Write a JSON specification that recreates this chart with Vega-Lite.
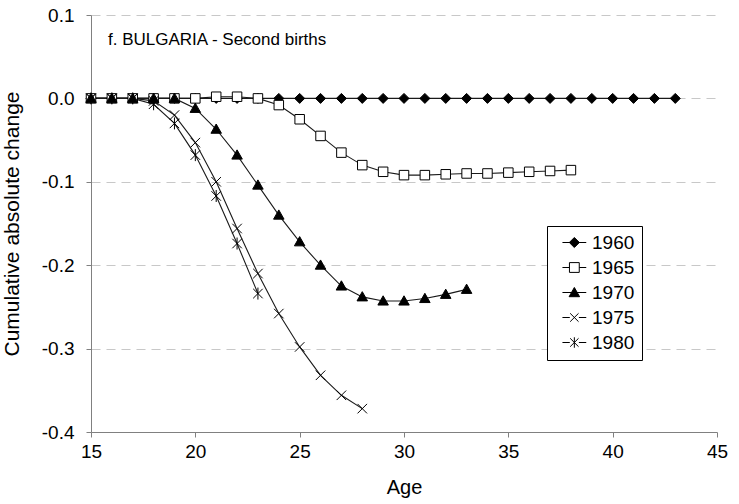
{
  "$schema": "https://vega.github.io/schema/vega-lite/v6.json",
  "width": 626,
  "height": 417,
  "autosize": {"type": "none"},
  "padding": {"left": 91, "top": 15, "right": 22, "bottom": 72},
  "background": "white",
  "config": {
    "view": {"stroke": null},
    "font": "Liberation Sans"
  },
  "title": {
    "text": "f. BULGARIA - Second births",
    "anchor": "start",
    "orient": "top",
    "frame": "group",
    "fontSize": 17,
    "fontWeight": "normal",
    "font": "Liberation Sans",
    "color": "black",
    "dx": 17,
    "dy": 51,
    "offset": 0,
    "baseline": "middle"
  },
  "data": {
    "values": [
      {"year": "1960", "age": 15, "value": 0}, {"year": "1960", "age": 16, "value": 0}, {"year": "1960", "age": 17, "value": 0}, {"year": "1960", "age": 18, "value": 0}, {"year": "1960", "age": 19, "value": 0}, {"year": "1960", "age": 20, "value": 0}, {"year": "1960", "age": 21, "value": 0}, {"year": "1960", "age": 22, "value": 0}, {"year": "1960", "age": 23, "value": 0}, {"year": "1960", "age": 24, "value": 0}, {"year": "1960", "age": 25, "value": 0}, {"year": "1960", "age": 26, "value": 0}, {"year": "1960", "age": 27, "value": 0}, {"year": "1960", "age": 28, "value": 0}, {"year": "1960", "age": 29, "value": 0}, {"year": "1960", "age": 30, "value": 0}, {"year": "1960", "age": 31, "value": 0}, {"year": "1960", "age": 32, "value": 0}, {"year": "1960", "age": 33, "value": 0}, {"year": "1960", "age": 34, "value": 0}, {"year": "1960", "age": 35, "value": 0}, {"year": "1960", "age": 36, "value": 0}, {"year": "1960", "age": 37, "value": 0}, {"year": "1960", "age": 38, "value": 0}, {"year": "1960", "age": 39, "value": 0}, {"year": "1960", "age": 40, "value": 0}, {"year": "1960", "age": 41, "value": 0}, {"year": "1960", "age": 42, "value": 0}, {"year": "1960", "age": 43, "value": 0},
      {"year": "1965", "age": 15, "value": 0}, {"year": "1965", "age": 16, "value": 0}, {"year": "1965", "age": 17, "value": 0}, {"year": "1965", "age": 18, "value": 0}, {"year": "1965", "age": 19, "value": 0}, {"year": "1965", "age": 20, "value": 0}, {"year": "1965", "age": 21, "value": 0.002}, {"year": "1965", "age": 22, "value": 0.002}, {"year": "1965", "age": 23, "value": 0}, {"year": "1965", "age": 24, "value": -0.008}, {"year": "1965", "age": 25, "value": -0.025}, {"year": "1965", "age": 26, "value": -0.045}, {"year": "1965", "age": 27, "value": -0.065}, {"year": "1965", "age": 28, "value": -0.08}, {"year": "1965", "age": 29, "value": -0.088}, {"year": "1965", "age": 30, "value": -0.092}, {"year": "1965", "age": 31, "value": -0.092}, {"year": "1965", "age": 32, "value": -0.091}, {"year": "1965", "age": 33, "value": -0.09}, {"year": "1965", "age": 34, "value": -0.09}, {"year": "1965", "age": 35, "value": -0.089}, {"year": "1965", "age": 36, "value": -0.088}, {"year": "1965", "age": 37, "value": -0.087}, {"year": "1965", "age": 38, "value": -0.086},
      {"year": "1970", "age": 15, "value": 0}, {"year": "1970", "age": 16, "value": 0}, {"year": "1970", "age": 17, "value": 0}, {"year": "1970", "age": 18, "value": 0}, {"year": "1970", "age": 19, "value": 0}, {"year": "1970", "age": 20, "value": -0.012}, {"year": "1970", "age": 21, "value": -0.037}, {"year": "1970", "age": 22, "value": -0.068}, {"year": "1970", "age": 23, "value": -0.104}, {"year": "1970", "age": 24, "value": -0.14}, {"year": "1970", "age": 25, "value": -0.172}, {"year": "1970", "age": 26, "value": -0.2}, {"year": "1970", "age": 27, "value": -0.225}, {"year": "1970", "age": 28, "value": -0.238}, {"year": "1970", "age": 29, "value": -0.243}, {"year": "1970", "age": 30, "value": -0.243}, {"year": "1970", "age": 31, "value": -0.24}, {"year": "1970", "age": 32, "value": -0.235}, {"year": "1970", "age": 33, "value": -0.229},
      {"year": "1975", "age": 15, "value": 0}, {"year": "1975", "age": 16, "value": 0}, {"year": "1975", "age": 17, "value": 0}, {"year": "1975", "age": 18, "value": -0.003}, {"year": "1975", "age": 19, "value": -0.02}, {"year": "1975", "age": 20, "value": -0.053}, {"year": "1975", "age": 21, "value": -0.1}, {"year": "1975", "age": 22, "value": -0.156}, {"year": "1975", "age": 23, "value": -0.21}, {"year": "1975", "age": 24, "value": -0.258}, {"year": "1975", "age": 25, "value": -0.298}, {"year": "1975", "age": 26, "value": -0.332}, {"year": "1975", "age": 27, "value": -0.356}, {"year": "1975", "age": 28, "value": -0.372},
      {"year": "1980", "age": 15, "value": 0}, {"year": "1980", "age": 16, "value": 0}, {"year": "1980", "age": 17, "value": 0}, {"year": "1980", "age": 18, "value": -0.007}, {"year": "1980", "age": 19, "value": -0.03}, {"year": "1980", "age": 20, "value": -0.068}, {"year": "1980", "age": 21, "value": -0.117}, {"year": "1980", "age": 22, "value": -0.174}, {"year": "1980", "age": 23, "value": -0.234}
    ]
  },
  "encoding": {
    "x": {
      "field": "age",
      "type": "quantitative",
      "scale": {"domain": [15, 45], "nice": false, "zero": false},
      "axis": {
        "title": "Age",
        "values": [15, 20, 25, 30, 35, 40, 45],
        "grid": false,
        "domainColor": "#808080",
        "tickColor": "#808080",
        "tickSize": 5,
        "labelFontSize": 19,
        "labelColor": "black",
        "labelFont": "Liberation Sans",
        "labelPadding": 5,
        "labelFlush": false,
        "titleFontSize": 20,
        "titleFont": "Liberation Sans",
        "titleFontWeight": "normal",
        "titleColor": "black",
        "titlePadding": 16
      }
    },
    "y": {
      "field": "value",
      "type": "quantitative",
      "scale": {"domain": [-0.4, 0.1], "nice": false, "zero": false},
      "axis": {
        "title": "Cumulative absolute change",
        "values": [-0.4, -0.3, -0.2, -0.1, 0, 0.1],
        "labelExpr": "replace(format(datum.value, '.1f'), '\u2212', '-')",
        "grid": true,
        "gridColor": "#c8c8c8",
        "gridDash": [9, 6],
        "gridWidth": 1.2,
        "domainColor": "#808080",
        "tickColor": "#808080",
        "tickSize": 5,
        "labelFontSize": 19,
        "labelColor": "black",
        "labelFont": "Liberation Sans",
        "labelPadding": 12,
        "titleFontSize": 21,
        "titleFont": "Liberation Sans",
        "titleFontWeight": "normal",
        "titleColor": "black",
        "titlePadding": 19
      }
    }
  },
  "layer": [
    {
      "mark": {"type": "line", "stroke": "#1a1a1a", "strokeWidth": 1.1},
      "encoding": {
        "detail": {"field": "year", "type": "nominal"},
        "order": {"field": "age", "type": "quantitative"}
      }
    },
    {
      "mark": {"type": "point", "filled": false, "opacity": 1, "stroke": "black", "strokeWidth": 1, "size": 100},
      "encoding": {
        "shape": {
          "field": "year",
          "type": "nominal",
          "scale": {
            "domain": ["1960", "1965", "1970", "1975", "1980"],
            "range": [
              "M0,-1L1,0L0,1L-1,0Z",
              "M-0.95,-0.95H0.95V0.95H-0.95Z",
              "M0,-1.05L1.05,0.8H-1.05Z",
              "M-0.95,-0.95L0.95,0.95M-0.95,0.95L0.95,-0.95",
              "M-0.95,-0.95L0.95,0.95M-0.95,0.95L0.95,-0.95M0,-1.2V1.2"
            ]
          },
          "legend": null
        },
        "fill": {
          "field": "year",
          "type": "nominal",
          "scale": {
            "domain": ["1960", "1965", "1970", "1975", "1980"],
            "range": ["black", "white", "black", "white", "white"]
          },
          "legend": null
        }
      }
    },
    {
      "mark": {"type": "point", "filled": true, "opacity": 0, "stroke": "black", "strokeWidth": 1, "size": 1},
      "encoding": {
        "shape": {
          "field": "year",
          "type": "nominal",
          "scale": {
            "domain": ["1960", "1965", "1970", "1975", "1980"],
            "range": [
              "M-0.15,0H3.25M1.55,-0.72L2.27,0L1.55,0.72L0.83,0Z",
              "M-0.15,0H0.85M2.25,0H3.25M0.85,-0.7H2.25V0.7H0.85Z",
              "M-0.15,0H3.25M1.55,-0.72L2.3,0.6H0.8Z",
              "M-0.15,0H0.9M2.2,0H3.25M0.95,-0.6L2.15,0.6M0.95,0.6L2.15,-0.6",
              "M-0.15,0H0.9M2.2,0H3.25M0.95,-0.6L2.15,0.6M0.95,0.6L2.15,-0.6M1.55,-0.75V0.75"
            ]
          },
          "legend": {
            "title": null,
            "orient": "none",
            "legendX": 456,
            "legendY": 211,
            "strokeColor": "black",
            "fillColor": "white",
            "padding": 7,
            "symbolSize": 196,
            "symbolOpacity": 1,
            "symbolStrokeWidth": 1,
            "labelFontSize": 19,
            "labelFont": "Liberation Sans",
            "labelColor": "black",
            "labelOffset": 19,
            "rowPadding": 5
          }
        },
        "fill": {
          "field": "year",
          "type": "nominal",
          "scale": {
            "domain": ["1960", "1965", "1970", "1975", "1980"],
            "range": ["black", "white", "black", "white", "white"]
          },
          "legend": {
            "title": null,
            "orient": "none",
            "legendX": 456,
            "legendY": 211,
            "strokeColor": "black",
            "fillColor": "white",
            "padding": 7,
            "symbolSize": 196,
            "symbolOpacity": 1,
            "symbolStrokeWidth": 1,
            "labelFontSize": 19,
            "labelFont": "Liberation Sans",
            "labelColor": "black",
            "labelOffset": 19,
            "rowPadding": 5
          }
        }
      }
    }
  ],
  "resolve": {"scale": {"shape": "independent", "fill": "independent"}}
}
